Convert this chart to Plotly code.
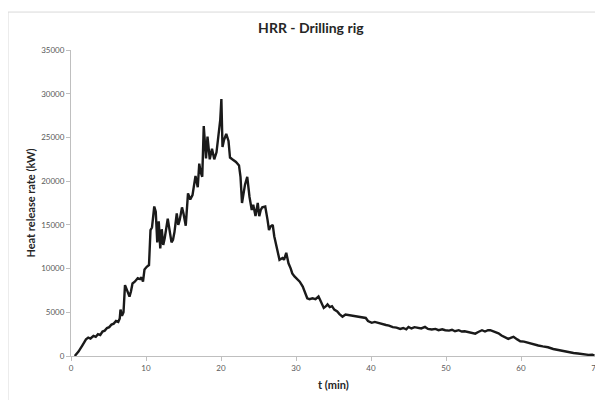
import plotly.graph_objects as go

title_text = "HRR - Drilling rig"
x_title = "t (min)"
y_title = "Heat release rate (kW)"

t_min = [0.5, 1.0, 1.5, 2.0, 2.3, 2.6, 3.0, 3.3, 3.6, 3.9, 4.2, 4.5, 4.8, 5.1, 5.4, 5.7,
         6.0, 6.3, 6.5, 6.6, 6.8, 7.0, 7.2, 7.5, 7.8, 8.0, 8.2, 8.5, 8.9, 9.2, 9.4, 9.6,
         9.8, 10.1, 10.4, 10.6, 10.8, 11.1, 11.3, 11.5, 11.7, 11.9, 12.1, 12.3, 12.5, 12.9,
         13.1, 13.4, 13.6, 13.8, 14.1, 14.3, 14.5, 14.8, 15.0, 15.3, 15.6, 15.9, 16.2, 16.6,
         16.9, 17.1, 17.3, 17.5, 17.7, 17.9, 18.0, 18.2, 18.4, 18.5, 18.8, 19.1, 19.4, 19.7,
         19.9, 20.05, 20.2, 20.4, 20.7, 21.0, 21.2, 21.5, 22.0, 22.4, 22.6, 22.8, 23.2, 23.5,
         23.8, 24.1, 24.3, 24.6, 24.9, 25.1, 25.3, 25.5, 25.9, 26.2, 26.4, 26.6, 26.9, 27.1,
         27.4, 27.6, 27.8, 28.2, 28.4, 28.7, 29.0, 29.3, 29.5, 29.8, 30.2, 30.5, 30.9, 31.2,
         31.5, 31.8, 32.2, 32.6, 33.0, 33.3, 33.7, 34.0, 34.2, 34.5, 34.8, 35.1, 35.5, 35.8,
         36.2, 36.6, 37.0, 37.5, 38.0, 38.4, 38.8, 39.3, 39.6, 40.1, 40.5, 41.0, 41.5, 42.0,
         42.4, 42.9, 43.4, 43.9, 44.3, 44.7, 45.0, 45.4, 45.8, 46.3, 46.7, 47.2, 47.6, 48.1,
         48.6, 49.0, 49.5, 49.9, 50.4, 50.8, 51.2, 51.7, 52.1, 52.5, 53.0, 53.5, 53.9, 54.3,
         54.8, 55.2, 55.6, 55.9, 56.2, 56.5, 57.0, 57.4, 57.8, 58.3, 58.7, 59.0, 59.5, 59.9,
         60.4, 61.0, 61.6, 62.3, 62.9, 63.6, 64.3, 65.0, 65.6, 66.3, 67.0, 67.6, 68.3, 69.0,
         69.5, 69.8]

hrr_kw = [0, 500, 1200, 1900, 2100, 2000, 2300, 2200, 2500, 2400, 2800, 2900, 3200, 3300, 3600, 3700,
          4000, 3900, 4300, 5300, 4600, 5000, 8100, 7500, 6800, 7400, 8300, 8500, 8900, 8800, 9000, 8500,
          9900, 10200, 10400, 14400, 14700, 17100, 16500, 13000, 15400, 12300, 14500, 12700, 13500, 15700,
          14500, 13000, 13300, 14200, 16300, 15000, 15600, 17000, 16300, 14900, 18600, 17900, 18400, 20600,
          19300, 22000, 21000, 20500, 26300, 23100, 22600, 25100, 23500, 22500, 23700, 22500, 23300, 26000,
          27000, 29400, 23900, 24700, 25400, 24600, 22700, 22500, 22200, 21800, 20500, 17500, 19600, 20500,
          18200, 16700, 17300, 16000, 17500, 16000, 16700, 17000, 17100, 15600, 14400, 14800, 15000, 13700,
          12500, 11800, 11000, 11200, 11000, 11800, 10600, 10000, 9450, 9100, 8700, 8500, 7950, 7200,
          6600, 6500, 6600, 6500, 6800, 6250, 5500, 5700, 5900, 5600, 5700, 5300, 5100, 4800,
          4500, 4750, 4700, 4650, 4550, 4500, 4400, 4350, 4000, 3800, 3900, 3780, 3600, 3550,
          3480, 3300, 3250, 3100, 3200, 3050, 3330, 3150, 3300, 3210, 3150, 3330, 3100, 3030,
          3100, 2950, 3050, 2950, 2900, 3000, 2830, 2950, 2800, 2830, 2750, 2700, 2560, 2750,
          2950, 2800, 2950, 2950, 2850, 2760, 2600, 2340, 2200, 1960, 2100, 2190, 1900, 1690,
          1650, 1500, 1300, 1200, 1100, 1000, 800, 670, 550, 440, 350, 290, 200, 130,
          150, 50]

x_ticks = [0, 10, 20, 30, 40, 50, 60, 70]
y_ticks = [0, 5000, 10000, 15000, 20000, 25000, 30000, 35000]
y_tick_labels = ["0", "5000", "10000", "15000", "20000", "25000", "30000", "35000"]

fig = go.Figure()
fig.add_trace(go.Scatter(x=t_min, y=hrr_kw, mode="lines",
                         line=dict(color="#1a1a1a", width=2.4), showlegend=False))

font_fam = "Lato, 'Open Sans', sans-serif"
fig.update_layout(
    width=595, height=392,
    paper_bgcolor="white", plot_bgcolor="white",
    margin=dict(l=63, r=7, t=42, b=44),
    title=dict(text="<b>" + title_text + "</b>", x=0.509, xanchor="center",
               y=0.949, yanchor="middle",
               font=dict(family=font_fam, size=14, color="#262626")),
    font=dict(family=font_fam),
    xaxis=dict(range=[0, 70], tickvals=x_ticks, showgrid=False, zeroline=False,
               showline=True, linecolor="#bfbfbf", linewidth=1, automargin=False,
               ticks="outside", ticklen=4, tickcolor="#bfbfbf",
               ticklabeloverflow="allow",
               tickfont=dict(size=8, color="#595959"),
               title=dict(text="<b>" + x_title + "</b>", standoff=9,
                          font=dict(size=11, color="#262626"))),
    yaxis=dict(range=[0, 35000], tickvals=y_ticks, ticktext=y_tick_labels,
               showgrid=False, zeroline=False, automargin=False,
               showline=True, linecolor="#bfbfbf", linewidth=1,
               ticks="outside", ticklen=4, tickcolor="#bfbfbf",
               tickfont=dict(size=8, color="#595959"),
               title=dict(text="<b>" + y_title + "</b>", standoff=3,
                          font=dict(size=11, color="#262626"))),
    shapes=[dict(type="rect", xref="paper", yref="paper",
                 x0=-0.1200, x1=1.05, y0=-0.3, y1=1.124,
                 line=dict(color="#d9d9d9", width=1), fillcolor="rgba(0,0,0,0)",
                 layer="below")],
)

fig.write_html("out.html")
